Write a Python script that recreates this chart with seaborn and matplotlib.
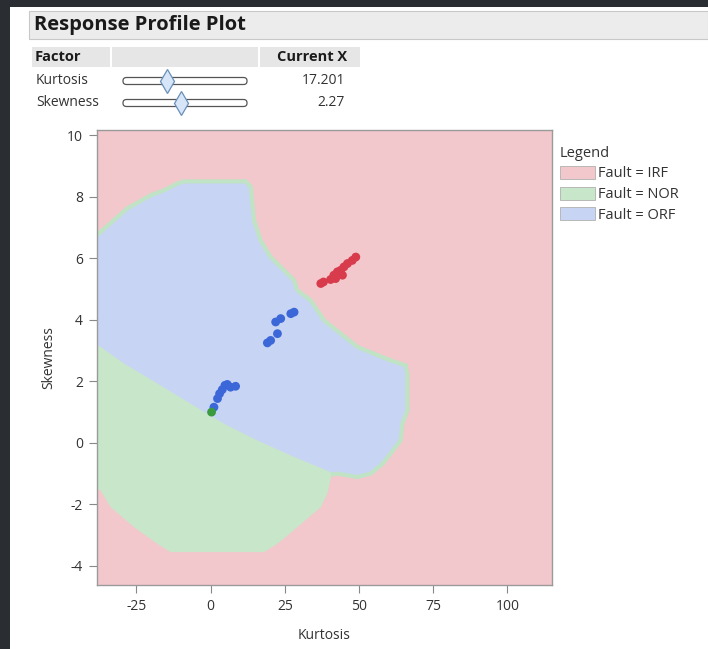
import numpy as np
import pandas as pd
import matplotlib
matplotlib.use("Agg")
import matplotlib.pyplot as plt
from matplotlib.patches import Rectangle, FancyBboxPatch, Patch
import seaborn as sns

# ---- observed samples -------------------------------------------------------
orf_kurtosis = [1.1, 2.3, 3.0, 3.9, 4.8, 5.6, 6.7, 8.4,
                19.1, 20.2, 22.5, 21.9, 23.6, 27.0, 28.1]
orf_skewness = [1.16, 1.44, 1.60, 1.73, 1.87, 1.90, 1.81, 1.84,
                3.25, 3.33, 3.55, 3.93, 4.04, 4.20, 4.25]
irf_kurtosis = [37.1, 38.0, 40.4, 41.5, 42.7, 43.8, 44.9, 46.1, 47.7, 48.9, 42.1, 44.4]
irf_skewness = [5.18, 5.23, 5.31, 5.45, 5.56, 5.61, 5.72, 5.83, 5.93, 6.04, 5.34, 5.45]
nor_kurtosis = [0.3]
nor_skewness = [1.00]

# ---- predicted class regions (boundary vertices, Kurtosis / Skewness) ------
orf_region_x = [-42, -38.4, -28.1, -20.2, -15.7, -11.2, -9.0, 11.8, 13.5, 14.6, 16.8,
                20.2, 24.7, 28.1, 29.2, 33.7, 38.2, 43.8, 49.4, 55.0, 60.6, 65.7,
                66.3, 66.3, 64.6, 64.0, 60.6, 57.9, 53.9, 49.4, 42.7, 39.5,
                27.0, 15.7, 4.5, -6.7, -18.0, -29.2, -37.1, -42]
orf_region_y = [6.75, 6.75, 7.62, 8.05, 8.21, 8.43, 8.50, 8.50, 8.32, 7.24, 6.59,
                6.04, 5.61, 5.28, 4.96, 4.63, 3.98, 3.55, 3.12, 2.90, 2.68, 2.52,
                2.25, 1.06, 0.62, 0.08, -0.35, -0.68, -1.00, -1.11, -1.00, -1.05,
                -0.55, -0.05, 0.50, 1.15, 1.80, 2.45, 3.00, 3.10]
nor_region_x = [-42, -37.1, -29.2, -18.0, -6.7, 4.5, 15.7, 27.0, 40.4, 40.6,
                39.3, 37.1, 29.2, 22.5, 18.0, -13.5, -18.0, -25.8, -33.7, -37.1, -42]
nor_region_y = [3.27, 3.12, 2.58, 1.93, 1.27, 0.62, 0.08, -0.41, -0.95, -1.10,
                -1.65, -2.09, -2.74, -3.28, -3.55, -3.55, -3.28, -2.74, -2.09, -1.54, -1.40]

classes = ["IRF", "NOR", "ORF"]
region_colors = {"IRF": "#f2c8cc", "NOR": "#c8e6c9", "ORF": "#c8d4f4"}
point_colors = {"IRF": "#d83b4b", "NOR": "#3a9a3e", "ORF": "#3b67d8"}

factor_names = ["Kurtosis", "Skewness"]
current_x = ["17.201", "2.27"]
slider_pos = [0.355, 0.47]

x_ticks = [-25, 0, 25, 50, 75, 100]
y_ticks = [-4, -2, 0, 2, 4, 6, 8, 10]

df = pd.DataFrame({
    "Kurtosis": orf_kurtosis + irf_kurtosis + nor_kurtosis,
    "Skewness": orf_skewness + irf_skewness + nor_skewness,
    "Fault": ["ORF"] * len(orf_kurtosis) + ["IRF"] * len(irf_kurtosis) + ["NOR"] * len(nor_kurtosis),
})

sns.set_theme(style="white")
plt.rcParams["font.family"] = ["Open Sans", "DejaVu Sans"]

W, H = 708, 649
fig = plt.figure(figsize=(W / 100, H / 100), dpi=100)
fig.patch.set_facecolor("white")


def fx(px):
    return px / W


def fy(py):
    return 1 - py / H


# window frame
fig.patches.append(Rectangle((0, 0), fx(10), 1, transform=fig.transFigure,
                             facecolor="#2a2d31", edgecolor="none", zorder=0))
fig.patches.append(Rectangle((0, fy(7)), 1, 1 - fy(7), transform=fig.transFigure,
                             facecolor="#2a2d31", edgecolor="none", zorder=0))

# report title bar
fig.patches.append(Rectangle((fx(29), fy(39)), fx(708 - 29), fy(11) - fy(39),
                             transform=fig.transFigure, facecolor="#ececec",
                             edgecolor="#c8c8c8", lw=0.8, zorder=1))
fig.text(fx(34), fy(25), "Response Profile Plot", fontsize=14.5, fontweight="bold",
         va="center", ha="left", color="#1a1a1a")

# factor table header
for x0, w in [(32, 78), (112, 146), (260, 100)]:
    fig.patches.append(Rectangle((fx(x0), fy(67)), fx(w), fy(47) - fy(67),
                                 transform=fig.transFigure, facecolor="#e6e6e6",
                                 edgecolor="none", zorder=1))
fig.text(fx(35), fy(57), "Factor", fontsize=10.5, fontweight="bold", va="center", color="#1a1a1a")
fig.text(fx(347), fy(57), "Current X", fontsize=10.5, fontweight="bold", va="center",
         ha="right", color="#1a1a1a")

row_y = [81, 103]
for name, val, pos, ry in zip(factor_names, current_x, slider_pos, row_y):
    fig.text(fx(36), fy(ry), name, fontsize=10, va="center", color="#333333")
    fig.text(fx(345), fy(ry), val, fontsize=10, va="center", ha="right", color="#333333")
    fig.patches.append(FancyBboxPatch((fx(123), fy(ry + 3.5)), fx(124), fy(ry - 3.5) - fy(ry + 3.5),
                                      boxstyle="round,pad=0,rounding_size=0.005",
                                      transform=fig.transFigure, facecolor="white",
                                      edgecolor="#555555", lw=0.9, zorder=2))
    cx = 123 + pos * 124
    fig.lines.append(plt.Line2D([fx(cx)], [fy(ry)], marker="d", markersize=12,
                                markerfacecolor="#d6e6f8", markeredgecolor="#6a8fb8",
                                markeredgewidth=0.9, transform=fig.transFigure, zorder=3))

# plot area
ax = fig.add_axes([fx(97), fy(585), fx(552 - 97), fy(130) - fy(585)])
ax.set_facecolor(region_colors["IRF"])
ax.fill(orf_region_x, orf_region_y, facecolor=region_colors["ORF"],
        edgecolor="#bfe3c4", lw=3.0, zorder=1)
ax.fill(nor_region_x, nor_region_y, facecolor=region_colors["NOR"],
        edgecolor="none", zorder=2)

sns.scatterplot(data=df, x="Kurtosis", y="Skewness", hue="Fault", palette=point_colors,
                s=40, edgecolor="none", legend=False, ax=ax, zorder=5)

ax.set_xlim(-38.3, 115.0)
ax.set_ylim(-4.62, 10.17)
ax.set_xticks(x_ticks)
ax.set_yticks(y_ticks)
ax.set_xticklabels([str(t) for t in x_ticks])
ax.set_yticklabels([str(t) for t in y_ticks])
ax.tick_params(axis="both", direction="out", length=6, width=0.8, color="#888888",
               labelsize=10, labelcolor="#333333", bottom=True, left=True, pad=4)
for side in ["left", "bottom", "right", "top"]:
    ax.spines[side].set_visible(True)
    ax.spines[side].set_color("#9a9a9a")
    ax.spines[side].set_linewidth(1.0)
ax.set_xlabel("Kurtosis", fontsize=10, color="#333333", labelpad=10)
ax.set_ylabel("Skewness", fontsize=10, color="#333333", labelpad=8)

# legend
handles = [Patch(facecolor=region_colors[c], edgecolor="#b0b0b0", lw=0.6, label=f"Fault = {c}")
           for c in classes]
leg = fig.legend(handles=handles, title="Legend", loc="upper left",
                 bbox_to_anchor=(fx(554), fy(140)), frameon=False, fontsize=10.5,
                 title_fontsize=10.5, handlelength=2.4, handleheight=1.0,
                 handletextpad=0.25, labelspacing=0.35, borderaxespad=0, alignment="left")
for t in leg.get_texts():
    t.set_color("#333333")
leg.get_title().set_color("#333333")

fig.savefig("out.png", dpi=100)
